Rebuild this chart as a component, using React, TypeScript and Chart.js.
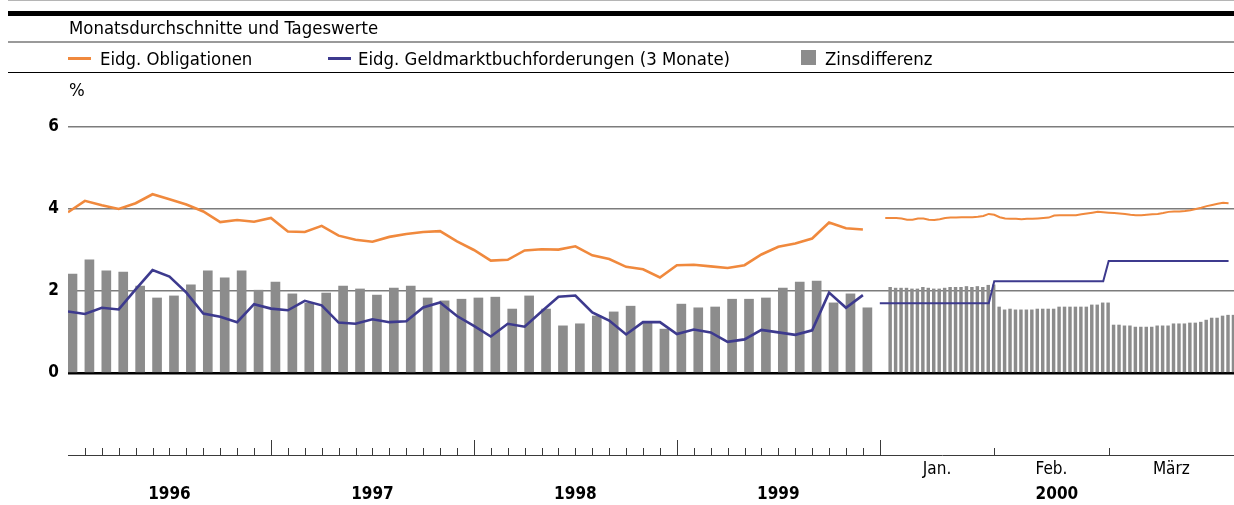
import React, { useEffect, useRef } from 'react';
import { Chart, registerables } from 'chart.js';

Chart.register(...registerables);

const FONT = "'DejaVu Sans Condensed', 'DejaVu Sans', sans-serif";

// ---------- texts ----------
const titleText = 'Monatsdurchschnitte und Tageswerte';
const legendLabels = ['Eidg. Obligationen', 'Eidg. Geldmarktbuchforderungen (3 Monate)', 'Zinsdifferenz'];
const unitLabel = '%';
const yearLabels = ['1996', '1997', '1998', '1999'];
const dailyYearLabel = '2000';
const dailyMonthLabels = ['Jan.', 'Feb.', 'März'];
const dailyMonthSlots = [21, 21, 23];
const yTickValues = [6, 4, 2, 0];

// ---------- monthly averages 1996-1999 ----------
const bondMonthly = [
  3.92, 4.20, 4.09, 4.00, 4.14, 4.36, 4.24, 4.11, 3.94, 3.68, 3.73, 3.69,
  3.78, 3.45, 3.44, 3.59, 3.35, 3.25, 3.20, 3.32, 3.39, 3.44, 3.46, 3.21,
  3.00, 2.74, 2.76, 2.99, 3.02, 3.01, 3.09, 2.87, 2.78, 2.59, 2.53, 2.33,
  2.63, 2.64, 2.60, 2.56, 2.63, 2.89, 3.08, 3.16, 3.28, 3.67, 3.53, 3.50,
];
const billMonthly = [
  1.50, 1.44, 1.59, 1.55, 2.04, 2.51, 2.35, 1.96, 1.45, 1.37, 1.24, 1.68,
  1.57, 1.53, 1.76, 1.65, 1.23, 1.20, 1.31, 1.24, 1.26, 1.60, 1.72, 1.39,
  1.15, 0.89, 1.20, 1.13, 1.50, 1.86, 1.89, 1.48, 1.28, 0.94, 1.24, 1.24,
  0.95, 1.06, 0.99, 0.76, 0.82, 1.05, 0.99, 0.93, 1.04, 1.96, 1.59, 1.90,
];
const spreadMonthly = [
  2.41, 2.76, 2.49, 2.46, 2.12, 1.83, 1.88, 2.15, 2.49, 2.32, 2.49, 2.02,
  2.22, 1.93, 1.70, 1.95, 2.12, 2.05, 1.90, 2.07, 2.12, 1.83, 1.76, 1.80,
  1.83, 1.85, 1.56, 1.88, 1.56, 1.15, 1.20, 1.39, 1.49, 1.63, 1.25, 1.07,
  1.68, 1.59, 1.61, 1.80, 1.80, 1.83, 2.07, 2.22, 2.24, 1.71, 1.93, 1.59,
];

// ---------- daily values Jan-Mar 2000 ----------
// money-market rate, from the first trading slot
const billDaily = [
  1.70, 1.70, 1.70, 1.70, 1.70, 1.70, 1.70, 1.70, 1.70, 1.70, 1.70,
  1.70, 1.70, 1.70, 1.70, 1.70, 1.70, 1.70, 1.70, 1.70, 1.70,
  2.24, 2.24, 2.24, 2.24, 2.24, 2.24, 2.24, 2.24, 2.24, 2.24, 2.24,
  2.24, 2.24, 2.24, 2.24, 2.24, 2.24, 2.24, 2.24, 2.24, 2.24,
  2.73, 2.73, 2.73, 2.73, 2.73, 2.73, 2.73, 2.73, 2.73, 2.73, 2.73, 2.73,
  2.73, 2.73, 2.73, 2.73, 2.73, 2.73, 2.73, 2.73, 2.73, 2.73, 2.73,
];
// bond yield, from the second trading slot
const bondDaily = [
  3.78, 3.78, 3.78, 3.77, 3.74, 3.74, 3.77, 3.77, 3.74, 3.73,
  3.75, 3.78, 3.79, 3.79, 3.80, 3.80, 3.80, 3.81, 3.83, 3.88,
  3.86, 3.80, 3.77, 3.76, 3.76, 3.75, 3.76, 3.76, 3.77, 3.78, 3.79,
  3.84, 3.85, 3.85, 3.85, 3.85, 3.87, 3.89, 3.91, 3.93, 3.92,
  3.91, 3.90, 3.89, 3.88, 3.86, 3.85, 3.85, 3.86, 3.87, 3.88, 3.90, 3.93,
  3.94, 3.94, 3.95, 3.97, 4.00, 4.03, 4.07, 4.10, 4.13, 4.15, 4.14,
];
// spread bars, from the second trading slot
const spreadDaily = [
  2.09, 2.07, 2.07, 2.07, 2.05, 2.05, 2.09, 2.07, 2.05, 2.05,
  2.07, 2.09, 2.09, 2.09, 2.11, 2.09, 2.11, 2.09, 2.14, 2.15,
  1.61, 1.54, 1.56, 1.54, 1.54, 1.54, 1.54, 1.56, 1.56, 1.56, 1.56,
  1.61, 1.61, 1.61, 1.61, 1.61, 1.61, 1.66, 1.66, 1.71, 1.71,
  1.17, 1.17, 1.15, 1.15, 1.12, 1.12, 1.12, 1.12, 1.15, 1.15, 1.15, 1.20,
  1.20, 1.20, 1.22, 1.22, 1.24, 1.29, 1.34, 1.34, 1.39, 1.41, 1.41,
];

// ---------- layout constants ----------
const N_MONTHS = yearLabels.length * 12;
const SLOT = 0.3222; // width of one trading-day slot, in months of the monthly section
const TOTAL_SLOTS = dailyMonthSlots.reduce((a, b) => a + b, 0);
const X_MAX = N_MONTHS + TOTAL_SLOTS * SLOT;
const MONTH_BAR_SHIFT = 0.266;
const DAY_BAR_SHIFT = 0.9;

const ORANGE = '#F0893D';
const BLUE = '#3D3A8E';
const BAR = '#8C8C8C';
const GRID = '#7C7C7C';

const xAxisPlugin = {
  id: 'xAxisPlugin',
  afterDraw(chart: any) {
    const { ctx, chartArea, scales } = chart;
    const xs = scales.x;
    const ys = scales.y;
    const base = Math.round(ys.getPixelForValue(-2));
    ctx.save();
    ctx.strokeStyle = '#3a3a3a';
    ctx.lineWidth = 1;
    ctx.beginPath();
    ctx.moveTo(chartArea.left, base + 0.5);
    ctx.lineTo(chartArea.right, base + 0.5);
    const tick = (v: number, len: number) => {
      const px = Math.round(xs.getPixelForValue(v)) + 0.5;
      ctx.moveTo(px, base);
      ctx.lineTo(px, base - len);
    };
    for (let m = 1; m <= N_MONTHS; m++) tick(m, m % 12 === 0 ? 15 : 7);
    let acc = 0;
    for (let i = 0; i < dailyMonthSlots.length - 1; i++) {
      acc += dailyMonthSlots[i];
      tick(N_MONTHS + acc * SLOT, 7);
    }
    ctx.stroke();

    ctx.fillStyle = '#000';
    ctx.textAlign = 'center';
    ctx.textBaseline = 'alphabetic';
    ctx.font = `bold 17px ${FONT}`;
    yearLabels.forEach((lab, i) => {
      ctx.fillText(lab, xs.getPixelForValue(i * 12 + 6), 499);
    });
    ctx.fillText(dailyYearLabel, xs.getPixelForValue(N_MONTHS + (TOTAL_SLOTS * SLOT) / 2), 499);
    ctx.font = `17px ${FONT}`;
    acc = 0;
    dailyMonthLabels.forEach((lab, i) => {
      const c = N_MONTHS + (acc + dailyMonthSlots[i] / 2) * SLOT;
      acc += dailyMonthSlots[i];
      ctx.fillText(lab, xs.getPixelForValue(c), 474);
    });
    ctx.restore();
  },
};

export default function App() {
  const ref = useRef<HTMLCanvasElement | null>(null);

  useEffect(() => {
    if (!ref.current) return;
    const chart = new Chart(ref.current, {
      type: 'bar',
      data: {
        datasets: [
          {
            type: 'line',
            label: legendLabels[0],
            data: bondMonthly.map((v, i) => ({ x: i, y: v })),
            borderColor: ORANGE,
            borderWidth: 2.6,
            pointRadius: 0,
            tension: 0,
            order: 1,
          } as any,
          {
            type: 'line',
            label: legendLabels[1],
            data: billMonthly.map((v, i) => ({ x: i, y: v })),
            borderColor: BLUE,
            borderWidth: 2.6,
            pointRadius: 0,
            tension: 0,
            order: 1,
          } as any,
          {
            type: 'line',
            label: legendLabels[0] + ' (Tageswerte)',
            data: bondDaily.map((v, j) => ({ x: N_MONTHS + (j + 1) * SLOT, y: v })),
            borderColor: ORANGE,
            borderWidth: 2,
            pointRadius: 0,
            tension: 0,
            order: 1,
          } as any,
          {
            type: 'line',
            label: legendLabels[1] + ' (Tageswerte)',
            data: billDaily.map((v, k) => ({ x: N_MONTHS + k * SLOT, y: v })),
            borderColor: BLUE,
            borderWidth: 2,
            pointRadius: 0,
            tension: 0,
            order: 1,
          } as any,
          {
            type: 'bar',
            label: legendLabels[2],
            data: spreadMonthly.map((v, i) => ({ x: i + MONTH_BAR_SHIFT, y: v })),
            backgroundColor: BAR,
            borderWidth: 0,
            barThickness: 9,
            grouped: false,
            order: 2,
          } as any,
          {
            type: 'bar',
            label: legendLabels[2] + ' (Tageswerte)',
            data: spreadDaily.map((v, j) => ({ x: N_MONTHS + (j + 1 + DAY_BAR_SHIFT) * SLOT, y: v })),
            backgroundColor: BAR,
            borderWidth: 0,
            barThickness: 2.8,
            grouped: false,
            order: 2,
          } as any,
        ],
      },
      options: {
        animation: false,
        responsive: false,
        devicePixelRatio: 1,
        layout: { padding: { left: 8, top: 127, right: 0, bottom: 50 } },
        plugins: { legend: { display: false }, tooltip: { enabled: false } },
        scales: {
          x: {
            type: 'linear',
            min: 0,
            max: X_MAX,
            display: false,
            offset: false,
            grid: { display: false, offset: false },
          },
          y: {
            min: -2,
            max: 6,
            afterFit: (s: any) => {
              s.width = 60;
            },
            border: { display: false },
            grid: {
              drawTicks: false,
              color: (c: any) =>
                c.tick && c.tick.value === 0 ? '#000' : c.tick && yTickValues.includes(c.tick.value) ? GRID : 'rgba(0,0,0,0)',
              lineWidth: (c: any) => (c.tick && c.tick.value === 0 ? 2.4 : 1.4),
            },
            ticks: {
              stepSize: 2,
              padding: 9,
              color: '#000',
              font: { family: FONT, size: 17, weight: 'bold' },
              callback: (v: any) => (yTickValues.includes(Number(v)) ? String(v) : ''),
            },
          },
        },
      } as any,
      plugins: [xAxisPlugin],
    });
    return () => chart.destroy();
  }, []);

  const text: React.CSSProperties = {
    position: 'absolute',
    fontFamily: FONT,
    fontSize: 18.4,
    lineHeight: '19px',
    whiteSpace: 'nowrap',
    color: '#000',
  };
  const rule = (top: number, h: number, bg: string): React.CSSProperties => ({
    position: 'absolute',
    left: 8,
    top,
    width: 1226,
    height: h,
    background: bg,
  });

  return (
    <div style={{ position: 'absolute', left: 0, top: 0, width: 1234, height: 505, background: '#fff', overflow: 'hidden' }}>
      <canvas ref={ref} width={1234} height={505} style={{ position: 'absolute', left: 0, top: 0, width: 1234, height: 505 }} />
      <div style={rule(0, 1, '#b5b5b5')} />
      <div style={rule(11, 5, '#000')} />
      <div style={{ ...text, left: 69, top: 18 }}>{titleText}</div>
      <div style={rule(41, 2, '#9a9a9a')} />
      <div style={{ position: 'absolute', left: 68, top: 57, width: 23, height: 2.5, background: ORANGE }} />
      <div style={{ ...text, left: 100, top: 49 }}>{legendLabels[0]}</div>
      <div style={{ position: 'absolute', left: 328, top: 57, width: 23, height: 2.5, background: BLUE }} />
      <div style={{ ...text, left: 358, top: 49 }}>{legendLabels[1]}</div>
      <div style={{ position: 'absolute', left: 801, top: 50, width: 15, height: 15, background: BAR }} />
      <div style={{ ...text, left: 825, top: 49 }}>{legendLabels[2]}</div>
      <div style={rule(72, 1.4, '#000')} />
      <div style={{ ...text, left: 69, top: 80 }}>{unitLabel}</div>
    </div>
  );
}
